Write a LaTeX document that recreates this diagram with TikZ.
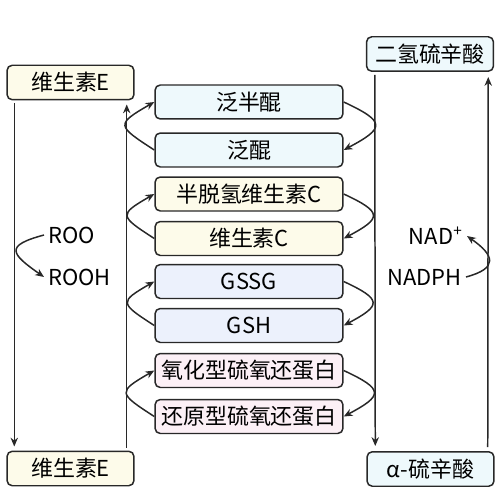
\documentclass[tikz,border=0pt]{standalone}
\usepackage{fontspec}
\setmainfont{Noto Sans CJK SC}
\usepackage{tikz}
\usetikzlibrary{calc,arrows.meta}
\definecolor{mycream}{RGB}{253,251,234}
\definecolor{mycyan}{RGB}{238,249,252}
\definecolor{mylavender}{RGB}{236,241,252}
\definecolor{mypink}{RGB}{252,240,246}
\definecolor{myline}{RGB}{40,40,40}
\tikzstyle{vertex}=[draw=myline,rounded corners=3pt,minimum width=2.54cm,minimum height=0.69cm,inner sep=0pt,font=\fontsize{12.5}{15}\selectfont]
\tikzstyle{pairbox}=[vertex,minimum width=3.76cm,minimum height=0.68cm]
\tikzstyle{txt}=[inner sep=2pt,font=\fontsize{12.5}{15}\selectfont]

\begin{document}
\begin{tikzpicture}[x=0.02cm,y=-0.02cm,line width=0.85pt,>={Stealth[length=5pt,width=4.2pt,inset=1.6pt]},draw=myline]
\useasboundingbox (0,0) rectangle (500,500);
\draw (70.5, 82.5) node [vertex,fill=mycream] (n1) {维生素E};
\draw (70.5, 468.5) node [vertex,fill=mycream] (n2) {维生素E};
\draw (430, 54) node [vertex,fill=mycyan] (n3) {二氢硫辛酸};
\draw (430.5, 469) node [vertex,fill=mycyan] (n4) {α-硫辛酸};
\draw (249, 102) node [pairbox,fill=mycyan] (m1) {泛半醌};
\draw (249, 150) node [pairbox,fill=mycyan] (m2) {泛醌};
\draw (249, 194) node [pairbox,fill=mycream] (m3) {半脱氢维生素C};
\draw (249, 238.5) node [pairbox,fill=mycream] (m4) {维生素C};
\draw (249, 281.5) node [pairbox,fill=mylavender] (m5) {GSSG};
\draw (249, 325.5) node [pairbox,fill=mylavender] (m6) {GSH};
\draw (249, 370.5) node [pairbox,fill=mypink] (m7) {氧化型硫氧还蛋白};
\draw (249, 416.5) node [pairbox,fill=mypink] (m8) {还原型硫氧还蛋白};
\draw (44, 235) node [txt,anchor=west] (r1) {ROO};
\draw (44, 277) node [txt,anchor=west] (r2) {ROOH};
\draw (467, 236) node [txt,anchor=east] (a1) {NAD\textsuperscript{+}};
\draw (466, 277) node [txt,anchor=east] (a2) {NADPH};
\draw[->] ($(n1.south west)+(8,3)$) -- ($(n2.north west)+(8,-4)$);
\draw[->] ($(n2.north east)+(-8,-3)$) -- ($(n1.south east)+(-8,4)$);
\draw[->] ($(n3.south west)+(9,3)$) -- ($(n4.north west)+(9,-5)$);
\draw[->] ($(n4.north east)+(-7,-4)$) -- ($(n3.south east)+(-6,5)$);
\foreach \u/\l in {m1/m2,m3/m4,m5/m6,m7/m8}{
  \draw[->] (\u.east) to[out=-25,in=28,looseness=2.5] (\l.east);
  \draw[->] (\l.west) to[out=147,in=210,looseness=2.4] (\u.west);
}
\draw[->] (r1.west) to[out=195,in=145,looseness=2.5] (r2.west);
\draw[->] (a2.east) to[out=15,in=-35,looseness=2.1] (a1.east);
\end{tikzpicture}
\end{document}
